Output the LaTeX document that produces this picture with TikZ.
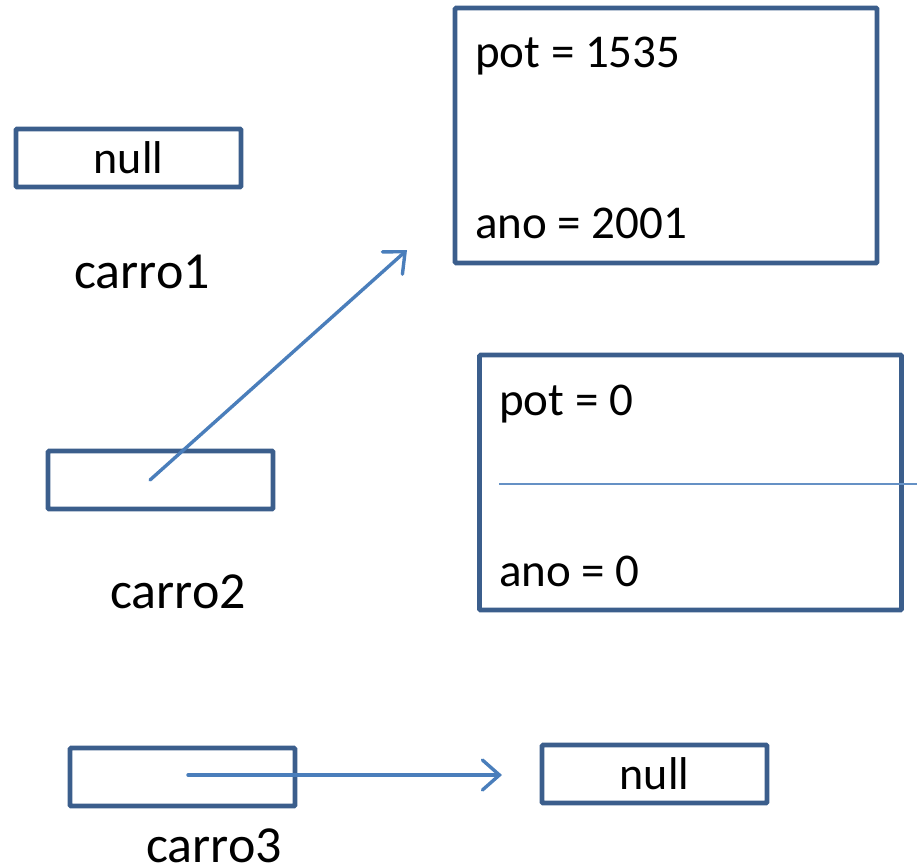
\documentclass[tikz,border=0pt]{standalone}
\usepackage{fontspec}
\setmainfont{Carlito}
\usetikzlibrary{arrows.meta}
\definecolor{boxblue}{HTML}{3B5E8C}
\definecolor{arrowblue}{HTML}{4A7EBB}
\tikzset{
  refbox/.style={draw=boxblue, line width=4.6pt, rounded corners=1pt, inner sep=0pt, minimum width=225pt, minimum height=58pt, font=\fontsize{46}{55}\selectfont},
  objbox/.style={draw=boxblue, line width=4.6pt, rounded corners=1pt, inner sep=0pt, minimum width=422pt, minimum height=255pt},
  fieldtxt/.style={inner sep=0pt, anchor=base west, font=\fontsize{47}{56}\selectfont},
  vartxt/.style={inner sep=0pt, anchor=base, font=\fontsize{52}{62}\selectfont},
  ptr/.style={draw=arrowblue, line width=3.4pt, line cap=round, -{Straight Barb[length=17pt, width=30pt, line cap=round]}},
  thinline/.style={draw=arrowblue!85, line width=2pt}
}
\begin{document}
\begin{tikzpicture}[x=1pt,y=-1pt]
\useasboundingbox (0,0) rectangle (917,867);
% objects
\node[objbox] (obj1) at (666,135.5) {};
\node[fieldtxt] (pot1) at (475,67) {pot = 1535};
\node[fieldtxt] (ano1) at (475,238) {ano = 2001};
\node[objbox] (obj2) at (690.5,482.5) {};
\node[fieldtxt] (pot2) at (499,415) {pot = 0};
\node[fieldtxt] (ano2) at (499,586) {ano = 0};
\coordinate (l1) at (499,484);
\coordinate (l2) at (917,484);
\draw[thinline] (l1) -- (l2);
% references
\node[refbox] (c1) at (128.5,158) {null};
\node[vartxt] (c1lab) at (142,288) {carro1};
\node[refbox] (c2) at (160.5,480) {};
\node[vartxt] (c2lab) at (178,608) {carro2};
\node[refbox] (c3) at (182.5,777) {};
\node[vartxt] (c3lab) at (214,862) {carro3};
\node[refbox] (n2) at (654.5,774) {null};
% pointers
\coordinate (c2s) at (150,480);
\coordinate (a1end) at (407,250);
\draw[ptr] (c2s) -- (a1end);
\coordinate (c3s) at (188,775);
\coordinate (a2end) at (502,775);
\draw[ptr] (c3s) -- (a2end);
\end{tikzpicture}
\end{document}
